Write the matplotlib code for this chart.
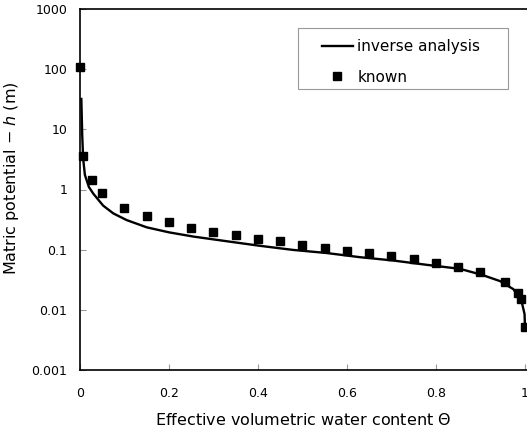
import numpy as np
import matplotlib
matplotlib.use("Agg")
import matplotlib.pyplot as plt
from matplotlib.patches import Rectangle
from matplotlib.ticker import FixedLocator, FixedFormatter

plt.rcParams['font.family'] = ['DejaVu Sans']
plt.rcParams['mathtext.fontset'] = 'dejavusans'

# known points (effective water content, matric potential in m)
known_theta = [0.0, 0.006, 0.026, 0.049, 0.10, 0.15, 0.20, 0.25, 0.30, 0.35, 0.40,
               0.45, 0.50, 0.55, 0.60, 0.65, 0.70, 0.75, 0.80, 0.85, 0.90, 0.955,
               0.985, 0.992, 0.999]
known_h = [107, 3.55, 1.45, 0.87, 0.50, 0.36, 0.285, 0.23, 0.194, 0.176, 0.151,
           0.137, 0.121, 0.108, 0.094, 0.088, 0.077, 0.069, 0.060, 0.052, 0.042,
           0.0286, 0.0194, 0.015, 0.0052]

# inverse analysis curve
inv_theta = [0.003, 0.005, 0.007, 0.011, 0.02, 0.03, 0.052, 0.075, 0.105, 0.15, 0.20,
             0.255, 0.33, 0.404, 0.479, 0.554, 0.629, 0.704, 0.779, 0.854, 0.904,
             0.944, 0.974, 0.992, 0.999, 1.0]
inv_h = [32, 8, 3.3, 1.75, 1.1, 0.85, 0.54, 0.40, 0.31, 0.235, 0.194,
         0.165, 0.138, 0.116, 0.099, 0.088, 0.075, 0.066, 0.056, 0.048, 0.038,
         0.030, 0.022, 0.0142, 0.0085, 0.005]

x_ticks = [0, 0.2, 0.4, 0.6, 0.8, 1.0]
x_tick_labels = ['0', '0.2', '0.4', '0.6', '0.8', '1']
y_ticks = [0.001, 0.01, 0.1, 1, 10, 100, 1000]
y_tick_labels = ['0.001', '0.01', '0.1', '1', '10', '100', '1000']

W, H = 527, 434
fig = plt.figure(figsize=(W / 100, H / 100), dpi=100)
ax = fig.add_axes([80 / W, (H - 370) / H, 447 / W, 361 / H])

ax.plot(inv_theta, inv_h, color='black', lw=1.7, label='inverse analysis', zorder=2)
ax.plot(known_theta, known_h, 's', color='black', ms=6.3, label='known', zorder=3,
        clip_on=False)

ax.set_yscale('log')
ax.set_xlim(0, 1.0045)
ax.set_ylim(0.001, 1000)

ax.xaxis.set_major_locator(FixedLocator(x_ticks))
ax.xaxis.set_major_formatter(FixedFormatter(x_tick_labels))
ax.yaxis.set_major_locator(FixedLocator(y_ticks))
ax.yaxis.set_major_formatter(FixedFormatter(y_tick_labels))
ax.yaxis.set_minor_locator(FixedLocator([]))
ax.tick_params(direction='in', length=4, color='#999999', labelsize=9)
ax.tick_params(axis='y', pad=9)
ax.tick_params(axis='x', pad=12)

ax.spines['right'].set_visible(False)
for s in ['left', 'bottom', 'top']:
    ax.spines[s].set_linewidth(1.2)

ax.set_xlabel('Effective volumetric water content $\\mathit{\\Theta}$', fontsize=11.5)
ax.set_ylabel('Matric potential $-$ $\\mathit{h}$ (m)', fontsize=11.5)
ax.xaxis.set_label_coords(303 / W, 1 - 412 / H, transform=fig.transFigure)
ax.yaxis.set_label_coords(21 / W, 1 - 178 / H, transform=fig.transFigure)

# legend frame drawn separately
fig.patches.append(Rectangle((298 / W, 1 - 89 / H), 210 / W, 61 / H,
                             transform=fig.transFigure, fill=False,
                             edgecolor='#999999', lw=0.8))
leg = ax.legend(loc='center left', bbox_to_anchor=(322 / W, 1 - 62 / H),
                bbox_transform=fig.transFigure, frameon=False,
                fontsize=11, handlelength=2.0, borderpad=0, labelspacing=1.0,
                handletextpad=0.3, borderaxespad=0)

fig.savefig('out.png', dpi=100)
